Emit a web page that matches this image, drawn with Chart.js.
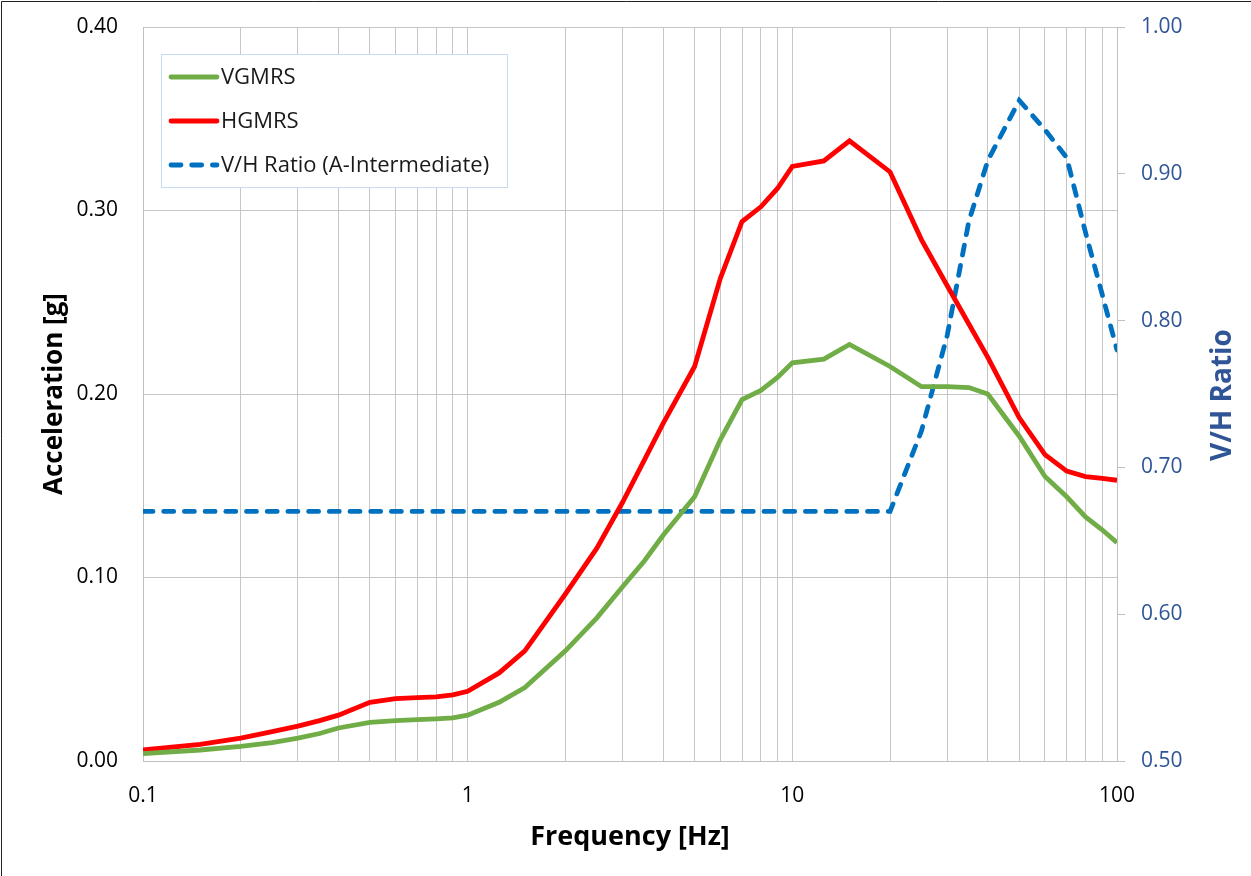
<!DOCTYPE html>
<html lang="en">
<head>
  <meta charset="UTF-8" />
  <title>VGMRS / HGMRS</title>
  <script src="https://cdn.jsdelivr.net/npm/chart.js"></script>
  <style>
    html, body { margin: 0; padding: 0; background: #fff; }
    #wrap { width: 1251px; height: 876px; }
  </style>
</head>
<body>
  <div id="wrap"><canvas id="gmrsChart"></canvas></div>

  <script>
    // spectrum frequencies [Hz]
    const freqHz = [0.1, 0.15, 0.2, 0.25, 0.3, 0.35, 0.4, 0.5, 0.6, 0.7, 0.8, 0.9, 1, 1.25, 1.5, 2, 2.5, 3, 3.5, 4, 5, 6, 7, 8, 9, 10, 12.5, 15, 20, 25, 30, 35, 40, 50, 60, 70, 80, 90, 100];

    // acceleration [g]
    const vgmrs = [0.004, 0.006, 0.008, 0.010, 0.0125, 0.015, 0.018, 0.021, 0.022, 0.0225, 0.023, 0.0235, 0.025, 0.032, 0.040, 0.060, 0.078, 0.095, 0.109, 0.123, 0.144, 0.175, 0.197, 0.202, 0.209, 0.217, 0.219, 0.227, 0.215, 0.204, 0.204, 0.2035, 0.200, 0.177, 0.155, 0.144, 0.133, 0.126, 0.119];
    const hgmrs = [0.006, 0.009, 0.0125, 0.016, 0.019, 0.022, 0.025, 0.032, 0.034, 0.0345, 0.035, 0.036, 0.038, 0.048, 0.060, 0.091, 0.116, 0.141, 0.164, 0.184, 0.215, 0.263, 0.294, 0.302, 0.312, 0.324, 0.327, 0.338, 0.321, 0.284, 0.259, 0.238, 0.220, 0.187, 0.167, 0.158, 0.155, 0.154, 0.153];

    // V/H ratio (right axis)
    const vhFreq = [0.1, 20, 25, 30, 35, 40, 50, 60, 70, 80, 90, 100];
    const vhRatio = [0.67, 0.67, 0.725, 0.79, 0.868, 0.909, 0.950, 0.930, 0.911, 0.860, 0.818, 0.780];

    const xDecades = [0.1, 1, 10, 100];
    const xTickLabels = ['0.1', '1', '10', '100'];

    const toPoints = (xs, ys) => xs.map((x, i) => ({ x: x, y: ys[i] }));

    // gridlines at 1..9 of each decade
    const logGrid = [];
    xDecades.forEach((d, i) => {
      if (i === xDecades.length - 1) { logGrid.push(d); return; }
      for (let k = 1; k <= 9; k++) logGrid.push(+(d * k).toPrecision(3));
    });

    const tickFont = { family: 'Open Sans', size: 21 };
    const gridGray = '#C6C6C6';
    const ratioBlue = '#2F5597';

    // fixed axis sizes so the plot area sits where it does in the original
    const fixWidth = w => s => { s.width = w; s.paddingTop = 0; s.paddingBottom = 0; };

    // legend in a box on the plot
    const boxLegend = {
      id: 'boxLegend',
      afterDatasetsDraw(chart) {
        const ctx = chart.ctx;
        ctx.save();
        ctx.fillStyle = '#fff';
        ctx.fillRect(161, 54, 346, 133);
        ctx.strokeStyle = '#C5DBF0';
        ctx.lineWidth = 1;
        ctx.strokeRect(161.5, 54.5, 346, 133);
        chart.data.datasets.forEach((ds, i) => {
          const y = 77 + i * 44;
          ctx.beginPath();
          ctx.setLineDash(ds.borderDash || []);
          ctx.lineCap = 'round';
          ctx.strokeStyle = ds.borderColor;
          ctx.lineWidth = ds.borderWidth;
          ctx.moveTo(171, y);
          ctx.lineTo(217, y);
          ctx.stroke();
          ctx.setLineDash([]);
          ctx.fillStyle = '#1a1a1a';
          ctx.font = '22px "Open Sans"';
          ctx.textBaseline = 'middle';
          ctx.textAlign = 'left';
          ctx.fillText(ds.label, 221, y + 1);
        });
        ctx.restore();
      }
    };

    // right-hand title (reads bottom to top) and the frame lines
    const extras = {
      id: 'extras',
      afterDraw(chart) {
        const ctx = chart.ctx;
        ctx.save();
        ctx.translate(1223, 395);
        ctx.rotate(-Math.PI / 2);
        ctx.fillStyle = ratioBlue;
        ctx.font = 'bold 28px "Open Sans"';
        ctx.textAlign = 'center';
        ctx.textBaseline = 'middle';
        ctx.fillText('V/H Ratio', 0, 0);
        ctx.restore();

        ctx.save();
        ctx.strokeStyle = '#222';
        ctx.lineWidth = 1;
        ctx.beginPath();
        ctx.moveTo(1.5, 876);
        ctx.lineTo(1.5, 1.5);
        ctx.lineTo(1251, 1.5);
        ctx.stroke();
        ctx.restore();
      }
    };

    new Chart(document.getElementById('gmrsChart'), {
      type: 'line',
      data: {
        datasets: [
          {
            label: 'VGMRS',
            data: toPoints(freqHz, vgmrs),
            borderColor: '#70AD47',
            borderWidth: 4.8,
            pointRadius: 0,
            tension: 0,
            yAxisID: 'y'
          },
          {
            label: 'HGMRS',
            data: toPoints(freqHz, hgmrs),
            borderColor: '#FF0000',
            borderWidth: 4.8,
            pointRadius: 0,
            tension: 0,
            yAxisID: 'y'
          },
          {
            label: 'V/H Ratio (A-Intermediate)',
            data: toPoints(vhFreq, vhRatio),
            borderColor: '#0070C0',
            borderWidth: 4.8,
            borderDash: [10, 10.7],
            borderCapStyle: 'round',
            pointRadius: 0,
            tension: 0,
            yAxisID: 'y1'
          }
        ]
      },
      options: {
        responsive: true,
        maintainAspectRatio: false,
        animation: false,
        layout: { padding: { top: 27, left: 0, right: 0, bottom: 0 } },
        plugins: {
          legend: { display: false },
          tooltip: { enabled: false }
        },
        scales: {
          x: {
            type: 'logarithmic',
            min: 0.1,
            max: 100,
            afterBuildTicks: s => { s.ticks = logGrid.map(v => ({ value: v })); },
            afterFit: s => { s.height = 115; s.paddingLeft = 0; s.paddingRight = 0; },
            grid: { color: gridGray, drawTicks: false },
            border: { color: '#BFBFBF' },
            ticks: {
              autoSkip: false,
              maxRotation: 0,
              padding: 22,
              color: '#000',
              font: tickFont,
              callback: v => {
                const i = xDecades.findIndex(d => Math.abs(d - v) < 1e-9);
                return i >= 0 ? xTickLabels[i] : '';
              }
            },
            title: {
              display: true,
              text: 'Frequency [Hz]',
              color: '#000',
              font: { family: 'Open Sans', size: 27, weight: 'bold' },
              padding: { top: 0, bottom: 22 }
            }
          },
          y: {
            position: 'left',
            min: 0,
            max: 0.4,
            afterFit: fixWidth(143),
            grid: { color: gridGray, drawTicks: false },
            border: { color: '#BFBFBF' },
            ticks: {
              stepSize: 0.1,
              padding: 25,
              color: '#000',
              font: tickFont,
              callback: v => v.toFixed(2)
            },
            title: {
              display: true,
              text: 'Acceleration [g]',
              color: '#000',
              font: { family: 'Open Sans', size: 26, weight: 'bold' },
              padding: { top: 39, bottom: 0 }
            }
          },
          y1: {
            position: 'right',
            min: 0.5,
            max: 1.0,
            afterFit: fixWidth(134),
            grid: { drawOnChartArea: false, drawTicks: true, tickLength: 8, color: '#BFBFBF' },
            border: { color: '#BFBFBF' },
            ticks: {
              stepSize: 0.1,
              padding: 16,
              color: ratioBlue,
              font: tickFont,
              callback: v => v.toFixed(2)
            }
          }
        }
      },
      plugins: [boxLegend, extras]
    });
  </script>
</body>
</html>
